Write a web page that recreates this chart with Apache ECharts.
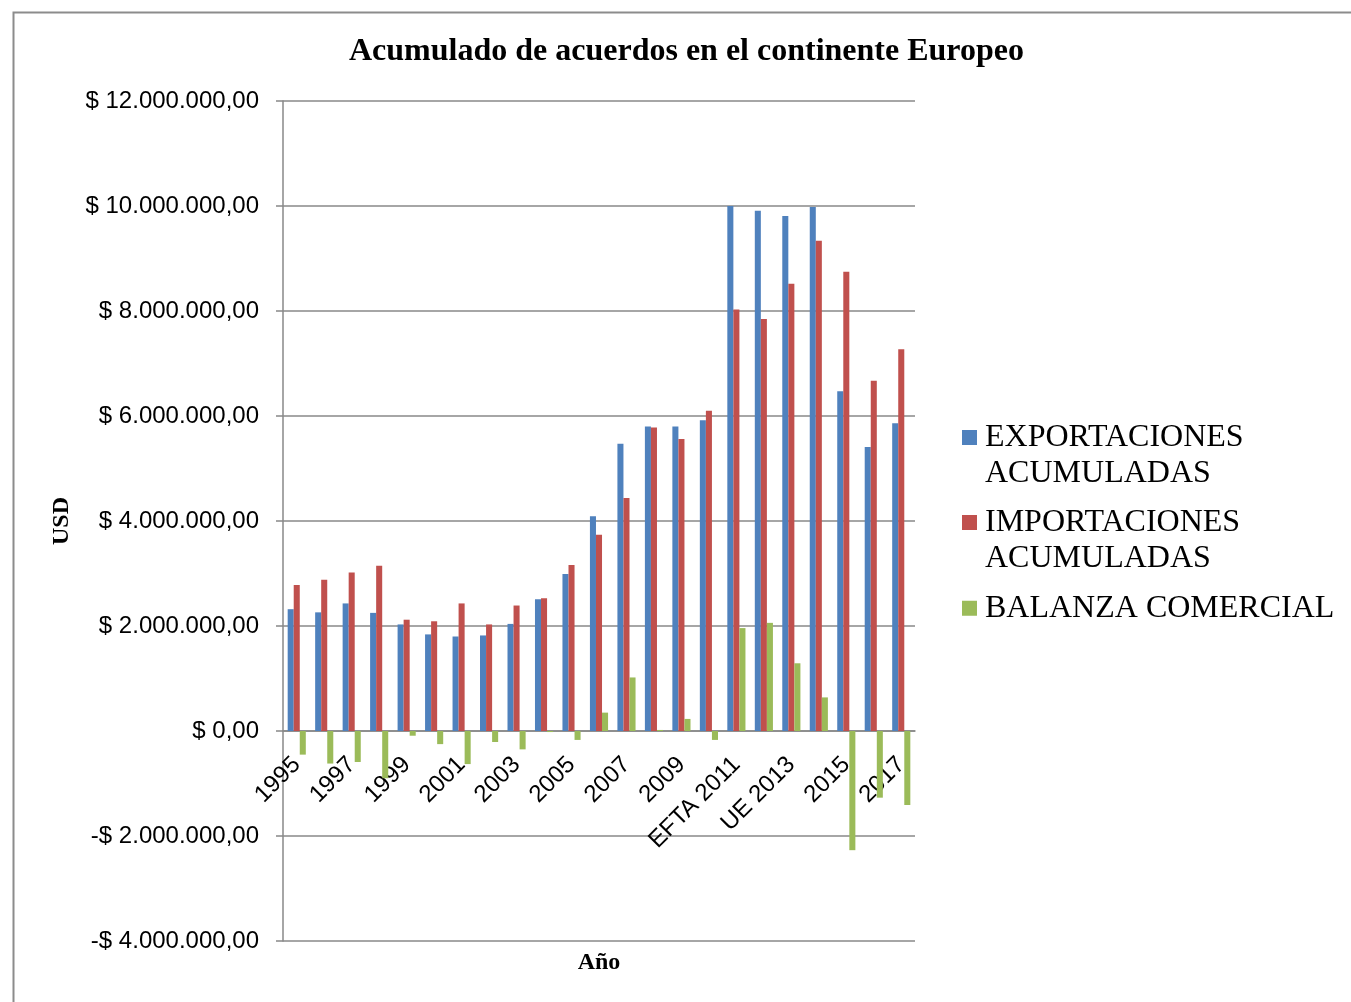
<!DOCTYPE html>
<html>
<head>
<meta charset="utf-8">
<title>Acumulado de acuerdos en el continente Europeo</title>
<script src="https://cdn.jsdelivr.net/npm/echarts@6/dist/echarts.min.js"></script>
<style>
  html, body { margin: 0; padding: 0; background: #fff; }
  #chart { width: 1351px; height: 1002px; }
</style>
</head>
<body>
<div id="chart"></div>
<script>
// categorias del eje X
var years = ["1995", "1996", "1997", "1998", "1999", "2000", "2001", "2002", "2003", "2004",
  "2005", "2006", "2007", "2008", "2009", "2010", "EFTA 2011", "2012", "UE 2013", "2014",
  "2015", "2016", "2017"];

// valores en USD
var exportaciones = [2320000, 2260000, 2430000, 2250000, 2030000, 1840000, 1800000, 1820000,
  2040000, 2510000, 2990000, 4090000, 5470000, 5800000, 5800000, 5920000, 10000000, 9910000,
  9810000, 9980000, 6470000, 5410000, 5860000];
var importaciones = [2780000, 2880000, 3020000, 3150000, 2120000, 2090000, 2430000, 2030000,
  2390000, 2530000, 3160000, 3740000, 4440000, 5780000, 5560000, 6100000, 8030000, 7850000,
  8520000, 9340000, 8750000, 6670000, 7270000];
var balanza = [-450000, -620000, -590000, -900000, -90000, -250000, -630000, -210000,
  -350000, -20000, -170000, 350000, 1020000, 20000, 230000, -170000, 1960000, 2060000,
  1290000, 640000, -2270000, -1270000, -1410000];

var yMin = -4000000, yMax = 12000000, yStep = 2000000;

function fmtUsd(v) {
  if (v === 0) return "$ 0,00";
  var s = Math.abs(v).toString().replace(/\B(?=(\d{3})+(?!\d))/g, ".");
  return (v < 0 ? "-" : "") + "$ " + s + ",00";
}

var chart = echarts.init(document.getElementById("chart"));
var serif = "Liberation Serif";
var sans = "Liberation Sans";

// area del grafico
var gridTop = 101, gridBottom = 61, gridH = 1002 - gridTop - gridBottom;
// el eje X cruza en 0: se sube desde el borde inferior
var xAxisShift = -gridH * (0 - yMin) / (yMax - yMin);

var legendText = {
  fontFamily: serif,
  fontSize: 32,
  lineHeight: 36.5,
  color: "#000"
};
// icono con el cuadrado arriba, alineado con la primera linea
var iconTwoLines = "path://M0,0h0.01M0,11h15v15h-15zM18,73h0.01";
var iconOneLine = "path://M0,0h15v15h-15zM18,0h0.01";

var option = {
  animation: false,
  backgroundColor: "#fff",
  title: {
    text: "Acumulado de acuerdos en el continente Europeo",
    left: 349,
    top: 36,
    padding: 0,
    textStyle: {
      fontFamily: serif,
      fontWeight: "bold",
      fontSize: 32,
      color: "#000"
    }
  },
  legend: [
    {
      data: [{ name: "EXPORTACIONES ACUMULADAS", icon: iconTwoLines }],
      orient: "vertical",
      left: 962,
      top: 419,
      padding: 0,
      itemWidth: 18,
      itemHeight: 73,
      selectedMode: false,
      formatter: function (name) { return name.replace(" ACUMULADAS", "\nACUMULADAS"); },
      textStyle: legendText
    },
    {
      data: [{ name: "IMPORTACIONES ACUMULADAS", icon: iconTwoLines }],
      orient: "vertical",
      left: 962,
      top: 504,
      padding: 0,
      itemWidth: 18,
      itemHeight: 73,
      selectedMode: false,
      formatter: function (name) { return name.replace(" ACUMULADAS", "\nACUMULADAS"); },
      textStyle: legendText
    },
    {
      data: [{ name: "BALANZA COMERCIAL", icon: iconOneLine }],
      orient: "vertical",
      left: 962,
      top: 590,
      padding: 0,
      itemWidth: 18,
      itemHeight: 15,
      selectedMode: false,
      textStyle: legendText
    }
  ],
  grid: {
    left: 283,
    right: 436,
    top: gridTop,
    bottom: gridBottom,
    outerBoundsMode: "none"
  },
  xAxis: {
    type: "category",
    data: years,
    position: "bottom",
    offset: xAxisShift,
    axisLine: { onZero: false, lineStyle: { color: "#888", width: 1.5 } },
    axisTick: { show: false },
    axisLabel: {
      interval: 1,
      rotate: 45,
      margin: 30,
      fontFamily: sans,
      fontSize: 24,
      color: "#000"
    }
  },
  yAxis: {
    type: "value",
    min: yMin,
    max: yMax,
    interval: yStep,
    name: "USD",
    nameLocation: "middle",
    nameRotate: 90,
    nameGap: 209,
    nameTextStyle: {
      fontFamily: serif,
      fontWeight: "bold",
      fontSize: 24,
      color: "#000"
    },
    axisLine: { show: true, lineStyle: { color: "#888", width: 1.5 } },
    axisTick: { show: true, length: 7, lineStyle: { color: "#888", width: 1.5 } },
    splitLine: { lineStyle: { color: "#888", width: 1.5 } },
    axisLabel: {
      margin: 24,
      fontFamily: sans,
      fontSize: 24,
      color: "#000",
      formatter: fmtUsd
    }
  },
  graphic: [
    {
      type: "rect",
      left: 11,
      top: 10,
      shape: { width: 1360, height: 1010 },
      style: { fill: "none", stroke: "#8c8c8c", lineWidth: 2 },
      silent: true
    },
    {
      // titulo del eje X
      type: "text",
      x: 599,
      y: 963,
      style: {
        text: "Año",
        align: "center",
        verticalAlign: "middle",
        font: "bold 24px 'Liberation Serif'",
        fill: "#000"
      },
      silent: true
    }
  ],
  series: [
    {
      name: "EXPORTACIONES ACUMULADAS",
      type: "bar",
      data: exportaciones,
      barGap: "0%",
      barCategoryGap: "34%",
      itemStyle: { color: "#4F81BD" }
    },
    {
      name: "IMPORTACIONES ACUMULADAS",
      type: "bar",
      data: importaciones,
      barGap: "0%",
      barCategoryGap: "34%",
      itemStyle: { color: "#C0504D" }
    },
    {
      name: "BALANZA COMERCIAL",
      type: "bar",
      data: balanza,
      barGap: "0%",
      barCategoryGap: "34%",
      itemStyle: { color: "#9BBB59" }
    }
  ]
};

chart.setOption(option);
</script>
</body>
</html>
